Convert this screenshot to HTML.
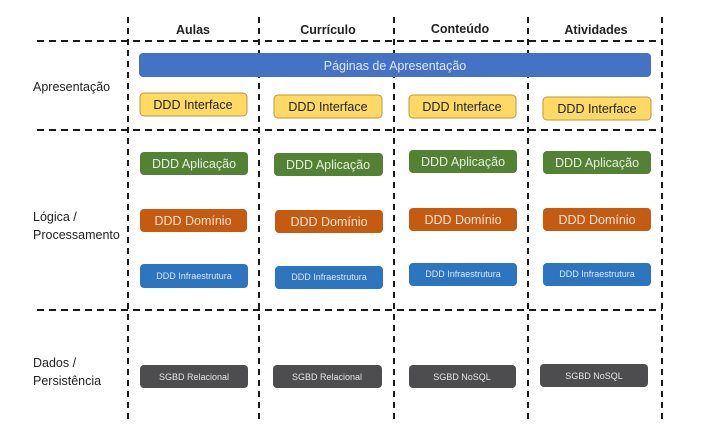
<!DOCTYPE html>
<html><head><meta charset="utf-8"><style>
html,body{margin:0;padding:0;background:#fff;}
svg{display:block;font-family:"Liberation Sans",sans-serif;}
</style></head><body>
<svg width="723" height="436" viewBox="0 0 723 436" xmlns="http://www.w3.org/2000/svg">
<g stroke="#1a1a1a" stroke-width="2" stroke-dasharray="7,5" fill="none">
<line x1="37" y1="41" x2="662" y2="41"/>
<line x1="37" y1="130" x2="662" y2="130"/>
<line x1="37" y1="310" x2="662" y2="310"/>
</g>
<g stroke="#1a1a1a" stroke-width="2" stroke-dasharray="6,5" fill="none">
<line x1="128" y1="17" x2="128" y2="420"/>
<line x1="259" y1="17" x2="259" y2="420"/>
<line x1="394" y1="17" x2="394" y2="420"/>
<line x1="528" y1="17" x2="528" y2="420"/>
<line x1="662" y1="17" x2="662" y2="420"/>
</g>
<g font-size="12.5" font-weight="bold" fill="#222" text-anchor="middle">
<text x="193" y="34">Aulas</text>
<text x="328" y="34">Currículo</text>
<text x="460" y="33">Conteúdo</text>
<text x="596" y="34">Atividades</text>
</g>
<g font-size="12.5" fill="#222">
<text x="33" y="91">Apresentação</text>
<text x="33" y="221">Lógica /</text>
<text x="33" y="239">Processamento</text>
<text x="33" y="367">Dados /</text>
<text x="33" y="385">Persistência</text>
</g>
<rect x="139" y="53" width="512" height="24" rx="4" fill="#4472c4"/>
<text x="395" y="70" font-size="12.5" fill="#dfe8f7" text-anchor="middle">Páginas de Apresentação</text>
<g font-size="12.5" text-anchor="middle">
<g fill="#ffd966" stroke="#b89a3a" stroke-width="1">
<rect x="140" y="93" width="107" height="23" rx="4"/>
<rect x="274" y="95" width="108" height="23" rx="4"/>
<rect x="409" y="95" width="107" height="23" rx="4"/>
<rect x="543" y="97" width="108" height="23" rx="4"/>
</g>
<g fill="#222">
<text x="193" y="109">DDD Interface</text>
<text x="328" y="111">DDD Interface</text>
<text x="462" y="111">DDD Interface</text>
<text x="597" y="113">DDD Interface</text>
</g>
<g fill="#548235">
<rect x="140" y="152" width="108" height="23" rx="4"/>
<rect x="274" y="153" width="109" height="23" rx="4"/>
<rect x="409" y="150" width="108" height="23" rx="4"/>
<rect x="543" y="151" width="108" height="23" rx="4"/>
</g>
<g fill="#e6efe0">
<text x="194" y="168">DDD Aplicação</text>
<text x="328" y="169">DDD Aplicação</text>
<text x="463" y="166">DDD Aplicação</text>
<text x="597" y="167">DDD Aplicação</text>
</g>
<g fill="#c55a11">
<rect x="140" y="209" width="107" height="23" rx="4"/>
<rect x="275" y="210" width="108" height="23" rx="4"/>
<rect x="409" y="208" width="108" height="23" rx="4"/>
<rect x="543" y="208" width="108" height="23" rx="4"/>
</g>
<g fill="#fbe6d8">
<text x="193" y="225">DDD Domínio</text>
<text x="329" y="226">DDD Domínio</text>
<text x="463" y="224">DDD Domínio</text>
<text x="597" y="224">DDD Domínio</text>
</g>
<g fill="#2e75c0">
<rect x="140" y="264" width="108" height="24" rx="4"/>
<rect x="275" y="266" width="108" height="23" rx="4"/>
<rect x="409" y="263" width="108" height="23" rx="4"/>
<rect x="543" y="263" width="108" height="23" rx="4"/>
</g>
<g fill="#dde8f5" font-size="9">
<text x="194" y="279">DDD Infraestrutura</text>
<text x="329" y="280">DDD Infraestrutura</text>
<text x="463" y="277">DDD Infraestrutura</text>
<text x="597" y="277">DDD Infraestrutura</text>
</g>
<g fill="#4d4d4f">
<rect x="140" y="365" width="108" height="23" rx="4"/>
<rect x="273" y="365" width="109" height="23" rx="4"/>
<rect x="409" y="365" width="107" height="23" rx="4"/>
<rect x="540" y="364" width="108" height="23" rx="4"/>
</g>
<g fill="#e5e5e5" font-size="9">
<text x="194" y="380">SGBD Relacional</text>
<text x="327" y="380">SGBD Relacional</text>
<text x="462" y="380">SGBD NoSQL</text>
<text x="594" y="379">SGBD NoSQL</text>
</g>
</g>
</svg>
</body></html>
